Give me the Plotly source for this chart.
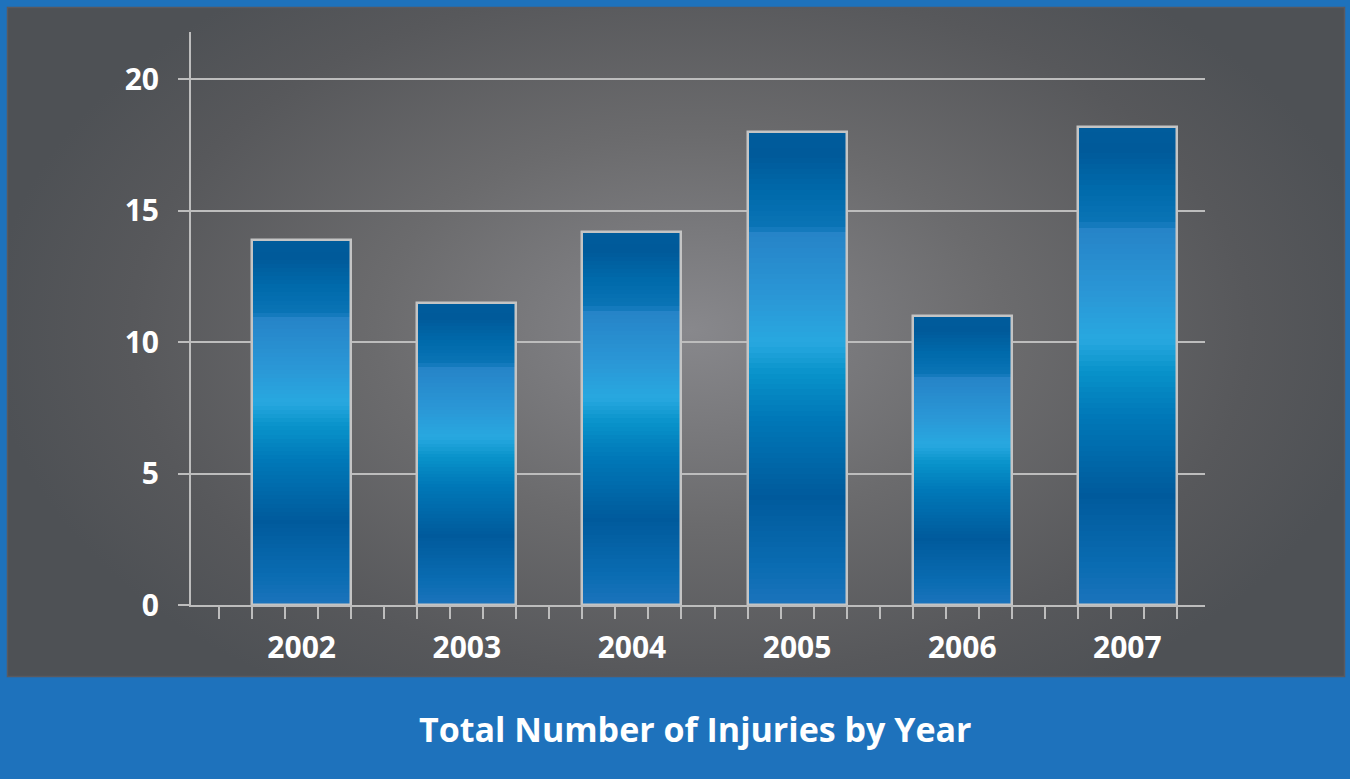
import base64
import plotly.graph_objects as go

# ---- data ----
years = ["2002", "2003", "2004", "2005", "2006", "2007"]
injuries = [13.9, 11.5, 14.2, 18.0, 11.0, 18.2]
y_ticks = [0, 5, 10, 15, 20]
title_text = "Total Number of Injuries by Year"

# ---- styling ----
W, H = 1350, 779
L, R, T, B = 191, 145, 32, 174
pw, ph = W - L - R, H - T - B

GRAD = [(0.0, "#1c74bc"), (0.08, "#0a6cb2"), (0.23, "#005a9c"), (0.40, "#0079b9"),
        (0.49, "#0993ca"), (0.555, "#28a8e0"), (0.65, "#2a97d6"), (0.785, "#2684c8"),
        (0.80, "#0a74b6"), (0.87, "#006aab"), (0.95, "#005a9a"), (1.0, "#005c9c")]


def hex2rgb(h):
    h = h.lstrip("#")
    return tuple(int(h[i:i + 2], 16) for i in (0, 2, 4))


def grad_color(t):
    for (t0, c0), (t1, c1) in zip(GRAD[:-1], GRAD[1:]):
        if t0 <= t <= t1:
            f = 0 if t1 == t0 else (t - t0) / (t1 - t0)
            a, b = hex2rgb(c0), hex2rgb(c1)
            return "rgb(%d,%d,%d)" % tuple(round(a[i] + (b[i] - a[i]) * f) for i in range(3))
    return GRAD[-1][1]


xs = list(range(len(years)))
N = 90
fig = go.Figure()
for k in range(N):
    fig.add_trace(go.Bar(
        x=xs, y=[v / N for v in injuries], base=[v * k / N for v in injuries],
        width=0.6, marker=dict(color=grad_color((k + 0.5) / N), line=dict(width=0)),
        hoverinfo="skip", showlegend=False))
fig.add_trace(go.Bar(
    x=xs, y=injuries, width=0.6,
    marker=dict(color="rgba(0,0,0,0)", line=dict(color="#c4c4c4", width=2.5)),
    hoverinfo="skip", showlegend=False))

svg = f'''<svg xmlns="http://www.w3.org/2000/svg" width="{W}" height="{H}" viewBox="0 0 {W} {H}" preserveAspectRatio="none">
<defs><radialGradient id="g" gradientUnits="userSpaceOnUse" cx="0" cy="0" r="700"
 gradientTransform="translate(690,330) scale(1,0.62)">
<stop offset="0" stop-color="#88888c"/><stop offset="0.45" stop-color="#6b6b6d"/>
<stop offset="0.8" stop-color="#57585b"/><stop offset="1" stop-color="#4e5155"/></radialGradient></defs>
<rect x="0" y="0" width="{W}" height="{H}" fill="#1e72bc"/>
<rect x="7" y="7" width="1338" height="670" fill="url(#g)"/>
<rect x="7.5" y="7.5" width="1337" height="669" fill="none" stroke="#5a5a60" stroke-width="1.5"/>
</svg>'''
src = "data:image/svg+xml;base64," + base64.b64encode(svg.encode()).decode()

fig.add_layout_image(dict(
    source=src, xref="paper", yref="paper",
    x=-L / pw, y=1 + T / ph, sizex=W / pw, sizey=H / ph,
    xanchor="left", yanchor="top", sizing="stretch", layer="below"))

font_family = "Open Sans"
fig.update_layout(
    width=W, height=H, margin=dict(l=L, r=R, t=T, b=B),
    paper_bgcolor="#1e72bc", plot_bgcolor="rgba(0,0,0,0)",
    barmode="overlay", bargap=0,
    xaxis=dict(range=[-0.67, 5.47], tickmode="array", tickvals=xs, ticktext=years,
               ticks="outside", ticklen=12, tickcolor="rgba(0,0,0,0)",
               ticklabelstandoff=3,
               tickfont=dict(family=font_family, size=30, color="white", weight="bold"),
               showgrid=False, zeroline=False, showline=True, linecolor="#bdbdbd", linewidth=2,
               minor=dict(tickmode="linear", tick0=-0.3, dtick=0.2, ticks="outside",
                          ticklen=12, tickcolor="#bdbdbd", tickwidth=2, showgrid=False)),
    yaxis=dict(range=[0, 21.8], tickmode="array", tickvals=y_ticks,
               ticks="outside", ticklen=11, tickcolor="#bdbdbd", tickwidth=2,
               ticklabelstandoff=13,
               tickfont=dict(family=font_family, size=30, color="white", weight="bold"),
               showgrid=True, gridcolor="#bdbdbd", gridwidth=2, zeroline=False,
               showline=True, linecolor="#bdbdbd", linewidth=2),
)
fig.add_annotation(text=title_text, xref="paper", yref="paper",
                   x=(695 - L) / pw, y=(H - B - 729) / ph, xanchor="center", yanchor="middle",
                   showarrow=False,
                   font=dict(family=font_family, size=34, color="white", weight="bold"))

fig.write_html("out.html")
